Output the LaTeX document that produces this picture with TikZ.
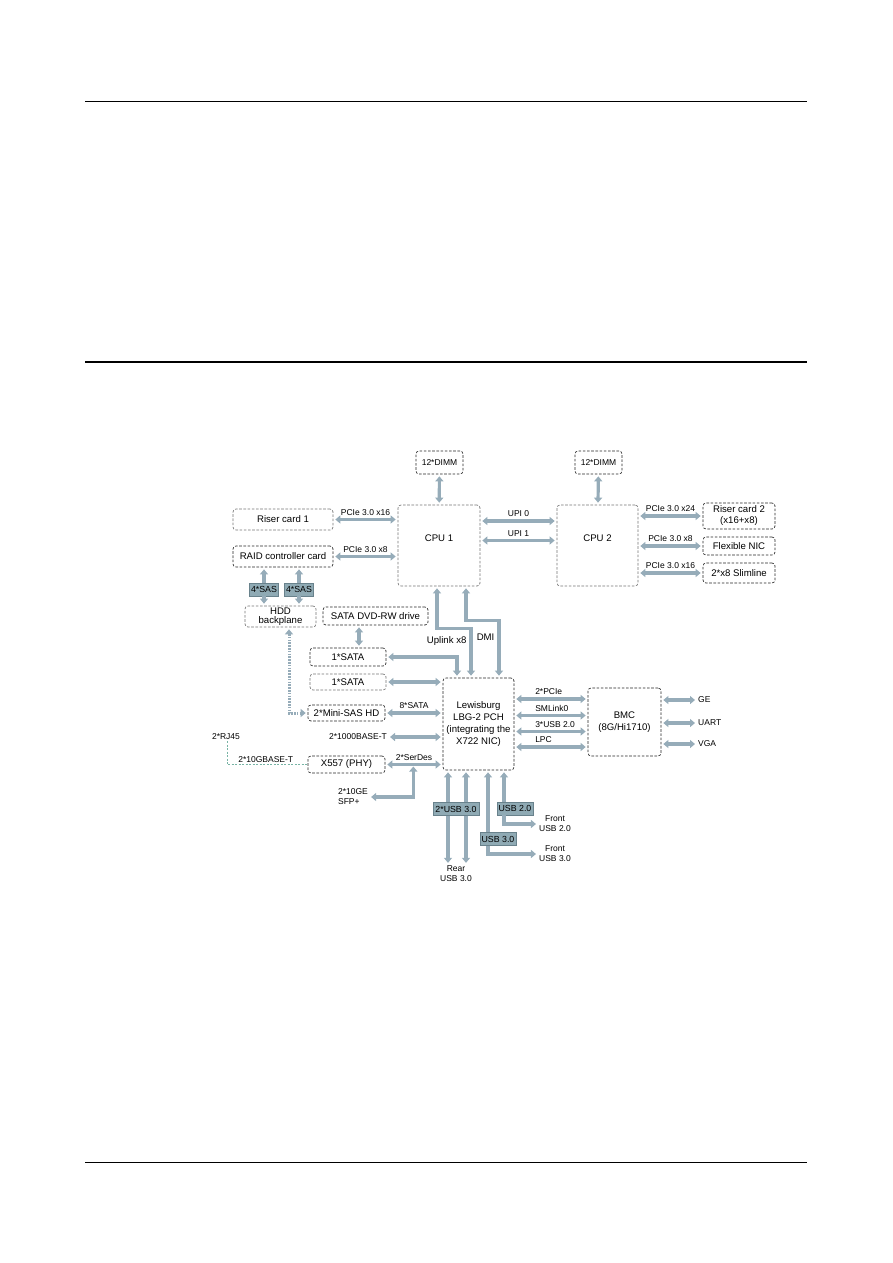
\documentclass[tikz,border=0pt]{standalone}
\usepackage{fontspec}
\setmainfont{Liberation Sans}
\usetikzlibrary{arrows.meta,positioning,calc}

\definecolor{busc}{RGB}{150,172,185}
\definecolor{tagc}{RGB}{143,170,180}
\definecolor{tagedge}{RGB}{105,130,140}
\definecolor{rjc}{RGB}{120,180,165}

\begin{document}
\begin{tikzpicture}[x=1pt, y=-1pt,
  >={Triangle[length=5pt,width=8pt]},
  box/.style={draw=black!85, line width=0.65pt, dash pattern=on 2.6pt off 1.6pt, rounded corners=3pt, align=center, inner sep=1pt, font=\fontsize{9.6}{12}\selectfont},
  gbox/.style={box, draw=black!55},
  lab/.style={font=\fontsize{8.5}{10}\selectfont, inner sep=1pt, align=center},
  txt/.style={font=\fontsize{9.6}{11}\selectfont, inner sep=1pt},
  tag/.style={fill=tagc, draw=tagedge, line width=0.4pt, font=\fontsize{8.8}{10}\selectfont, inner sep=1.5pt, minimum height=13pt},
  bus/.style={line width=3.2pt, draw=busc},
  both/.style={bus, <->, shorten <=2pt, shorten >=2pt},
  link/.style={draw=rjc, line width=0.7pt, dash pattern=on 2pt off 1.5pt}
]
\useasboundingbox (0,0) rectangle (893,1263);

% page rules
\draw[line width=0.8pt] (85,101) -- (807,101);
\draw[line width=1.6pt] (85,362) -- (807,362);
\draw[line width=0.8pt] (85,1162) -- (807,1162);

% processors and memory
\node[gbox, minimum width=82pt, minimum height=81pt, text depth=14pt] (cpua) at (439,545.5) {CPU 1};
\node[gbox, minimum width=81pt, minimum height=81pt, text depth=14pt] (cpub) at (597.5,545.5) {CPU 2};
\node[box, minimum width=47pt, minimum height=23pt, font=\fontsize{8.5}{10}\selectfont] (dimma) at (439.5,462.5) {12*DIMM};
\node[box, minimum width=47pt, minimum height=23pt, font=\fontsize{8.5}{10}\selectfont] (dimmb) at (598.5,462.5) {12*DIMM};

% left side
\node[gbox, minimum width=100pt, minimum height=21pt] (riserone) at (283,519.5) {Riser card 1};
\node[box, minimum width=100pt, minimum height=21pt] (raid) at (283,556.5) {RAID controller card};
\node[tag] (sasa) at (264,589.5) {4*SAS};
\node[tag] (sasb) at (299,589.5) {4*SAS};
\node[gbox, minimum width=71pt, minimum height=21pt, font=\fontsize{9.6}{9}\selectfont] (hdd) at (280.5,616.5) {HDD\\backplane};
\node[box, minimum width=105pt, minimum height=18pt] (dvd) at (375.5,616) {SATA DVD-RW drive};
\node[box, minimum width=76pt, minimum height=18pt] (sataa) at (348,657) {1*SATA};
\node[gbox, minimum width=76pt, minimum height=16pt] (satab) at (348,682) {1*SATA};
\node[box, minimum width=77pt, minimum height=16pt] (minisas) at (346.5,713) {2*Mini-SAS HD};
\node[box, minimum width=77pt, minimum height=17pt] (phy) at (346.5,764.5) {X557 (PHY)};

% PCH and BMC
\node[box, minimum width=71pt, minimum height=92pt] (pch) at (478.5,724) {Lewisburg\\LBG-2 PCH\\(integrating the\\X722 NIC)};
\node[box, minimum width=73pt, minimum height=68pt] (bmc) at (624.5,722) {BMC\\(8G/Hi1710)};

% right side
\node[box, minimum width=72pt, minimum height=26pt, font=\fontsize{9.6}{11}\selectfont] (risertwo) at (739,516) {Riser card 2\\(x16+x8)};
\node[box, minimum width=72pt, minimum height=18pt] (flexnic) at (739,546) {Flexible NIC};
\node[box, minimum width=72pt, minimum height=20pt] (slim) at (739,573) {2*x8 Slimline};

% free labels
\node[lab, anchor=east] (gbase) at (388,737) {2*1000BASE-T};
\node[lab, align=left] (sfp) at (353,797) {2*10GE\\SFP+};
\node[lab] (rj45) at (226,737) {2*RJ45};
\node[lab, anchor=west] (ge) at (697,700) {GE};
\node[lab, anchor=west] (uart) at (697,723) {UART};
\node[lab, anchor=west] (vga) at (697,744) {VGA};
\node[tag, minimum width=46pt] (usbrear) at (456,809) {2*USB 3.0};
\node[tag, minimum width=34pt] (usbfthree) at (498,839) {USB 3.0};
\node[tag, minimum width=34pt] (usbftwo) at (515,808.5) {USB 2.0};
\node[lab] (rear) at (456,874) {Rear\\USB 3.0};
\node[lab] (frontthree) at (555,854) {Front\\USB 3.0};
\node[lab] (fronttwo) at (555,824) {Front\\USB 2.0};

% CPU buses
\draw[both] (dimma) -- (cpua);
\draw[both] (dimmb) -- (cpub);
\draw[both] (riserone.east) -- (riserone.east -| cpua.west) node[midway, above=1.8pt, lab] (pcieone) {PCIe 3.0 x16};
\draw[both] (raid.east) -- (raid.east -| cpua.west) node[midway, above=1.8pt, lab] (pcieraid) {PCIe 3.0 x8};
\draw[both] ([yshift=24.5pt]cpua.east) -- ([yshift=24.5pt]cpub.west) node[midway, above=1.8pt, lab] (upia) {UPI 0};
\draw[both] ([yshift=5pt]cpua.east) -- ([yshift=5pt]cpub.west) node[midway, above=1.8pt, lab] (upib) {UPI 1};
\draw[both] (risertwo.west -| cpub.east) -- (risertwo.west) node[midway, above=1.8pt, lab] (pcietwo) {PCIe 3.0 x24};
\draw[both] (flexnic.west -| cpub.east) -- (flexnic.west) node[midway, above=1.8pt, lab] (pcienic) {PCIe 3.0 x8};
\draw[both] (slim.west -| cpub.east) -- (slim.west) node[midway, above=1.8pt, lab] (pcieslim) {PCIe 3.0 x16};

% storage
\draw[bus, <-, shorten <=2pt] (sasa.north |- raid.south) -- (sasa.north);
\draw[bus, ->, shorten >=2pt] (sasa.south) -- (sasa.south |- hdd.north);
\draw[bus, <-, shorten <=2pt] (sasb.north |- raid.south) -- (sasb.north);
\draw[bus, ->, shorten >=2pt] (sasb.south) -- (sasb.south |- hdd.north);
\draw[both, line width=3pt, dash pattern=on 1.5pt off 1.3pt] ([xshift=8.5pt]hdd.south) |- (minisas.west);
\draw[both] ([xshift=11pt]sataa.north) -- ([xshift=11pt]sataa.north |- dvd.south);

% CPU 1 to PCH
\draw[both] ([xshift=-2pt]cpua.south) -- ++(0,42) -- ++(34,0) -- node[left=2pt, pos=0.25, txt] (uplink) {Uplink x8} ([xshift=-7.5pt]pch.north);
\draw[both] ([xshift=27pt]cpua.south) -- ++(0,34) -- ++(33,0) -- node[left=2pt, pos=0.3, txt] (dmi) {DMI} ([xshift=20.5pt]pch.north);

% PCH left
\draw[both] (sataa.east) -| ([xshift=-21.5pt]pch.north);
\draw[both] (satab.east) -- (satab.east -| pch.west);
\draw[both] (minisas.east) -- (minisas.east -| pch.west) node[midway, above=1.8pt, lab] (eightsata) {8*SATA};
\draw[both] (gbase.east) -- (gbase.east -| pch.west);
\draw[both] (phy.east) -- (phy.east -| pch.west) node[midway, above=1.8pt, lab] (serdes) {2*SerDes};
\draw[both] ([xshift=28pt]phy.east) |- (sfp.east);
\draw[link] ([xshift=1pt]rj45.south) |- (phy.west) node[pos=0.74, above=0.5pt, lab] (tengbase) {2*10GBASE-T};

% PCH to BMC
\draw[both] ([yshift=25pt]pch.east) -- ([yshift=25pt]pch.east -| bmc.west) node[pos=0.25, above right=1.8pt and 0pt, lab] (pciebmc) {2*PCIe};
\draw[both] ([yshift=8.5pt]pch.east) -- ([yshift=8.5pt]pch.east -| bmc.west) node[pos=0.25, above right=1.8pt and 0pt, lab] (smlink) {SMLink0};
\draw[both] ([yshift=-7.5pt]pch.east) -- ([yshift=-7.5pt]pch.east -| bmc.west) node[pos=0.25, above right=1.8pt and 0pt, lab] (usbbmc) {3*USB 2.0};
\draw[both] ([yshift=-23pt]pch.east) -- ([yshift=-23pt]pch.east -| bmc.west) node[pos=0.25, above right=1.8pt and 0pt, lab] (lpc) {LPC};
\draw[both] (ge.west -| bmc.east) -- (ge.west);
\draw[both] (uart.west -| bmc.east) -- (uart.west);
\draw[both] (vga.west -| bmc.east) -- (vga.west);

% USB
\draw[bus, <-, shorten <=2pt] ([xshift=-30.5pt]pch.south) -- ([xshift=-30.5pt]pch.south |- usbrear.north);
\draw[bus, ->, shorten >=2pt] ([xshift=-30.5pt]pch.south |- usbrear.south) -- ([xshift=-30.5pt]pch.south |- rear.north);
\draw[bus, <-, shorten <=2pt] ([xshift=-12.5pt]pch.south) -- ([xshift=-12.5pt]pch.south |- usbrear.north);
\draw[bus, ->, shorten >=2pt] ([xshift=-12.5pt]pch.south |- usbrear.south) -- ([xshift=-12.5pt]pch.south |- rear.north);
\draw[bus, <-, shorten <=2pt] ([xshift=9.5pt]pch.south) -- ([xshift=9.5pt]pch.south |- usbfthree.north);
\draw[bus, ->, shorten >=2pt] ([xshift=9.5pt]pch.south |- usbfthree.south) |- (frontthree.west);
\draw[bus, <-, shorten <=2pt] ([xshift=25.5pt]pch.south) -- ([xshift=25.5pt]pch.south |- usbftwo.north);
\draw[bus, ->, shorten >=2pt] ([xshift=25.5pt]pch.south |- usbftwo.south) |- (fronttwo.west);
\end{tikzpicture}
\end{document}
